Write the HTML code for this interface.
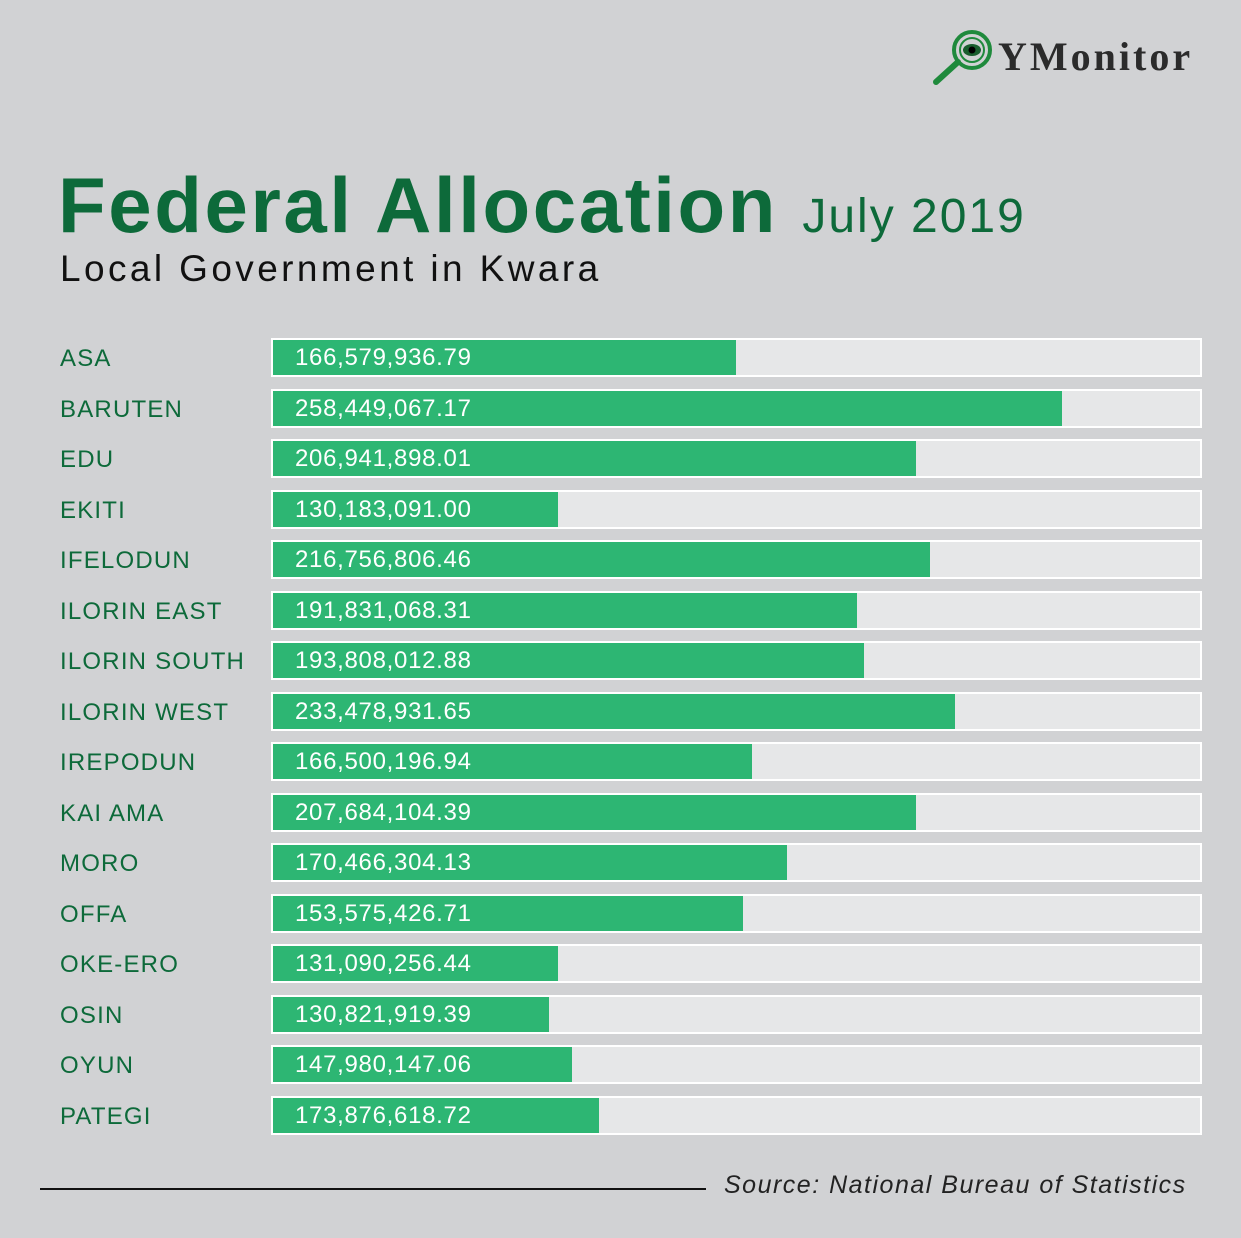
<!DOCTYPE html>
<html><head><meta charset="utf-8"><style>
body{margin:0;width:1241px;height:1238px;background:#d1d2d4;position:relative;overflow:hidden;font-family:"Liberation Sans",sans-serif}
.t{position:absolute;white-space:nowrap}
.row{position:absolute;left:271px;width:927px;height:35px;border:2px solid #fff;background:#e6e7e8}
.g{position:absolute;left:0;top:0;height:35px;background:#2db673}
.v{position:absolute;left:22px;top:4px;color:#fff;font-size:24px;letter-spacing:0.7px}
.lab{position:absolute;left:60px;color:#0d6a3a;font-size:24px;letter-spacing:1.2px}
</style></head><body>
<svg style="position:absolute;left:930px;top:26px" width="70" height="62">
<line x1="6" y1="56" x2="28" y2="36" stroke="#1f8a3c" stroke-width="6" stroke-linecap="round"/>
<circle cx="42" cy="24" r="18" fill="none" stroke="#1f8a3c" stroke-width="4"/>
<circle cx="42" cy="24" r="12" fill="none" stroke="#1f8a3c" stroke-width="2"/>
<ellipse cx="42" cy="24" rx="9" ry="6" fill="#1a5e2e"/>
<circle cx="42" cy="24" r="3.5" fill="#000"/>
</svg>
<div class="t" style="left:998px;top:33px;font-family:'Liberation Serif',serif;font-weight:bold;font-size:40px;color:#2b2b2b;letter-spacing:3px">YMonitor</div>
<div class="t" style="left:58px;top:160px;font-size:78px;font-weight:bold;color:#0d6a3a;letter-spacing:2.6px">Federal Allocation <span style="font-weight:normal;font-size:48px;letter-spacing:2px">July 2019</span></div>
<div class="t" style="left:60px;top:248px;font-size:37px;color:#111;letter-spacing:3.4px">Local Government in Kwara</div>
<div id="c"></div>
<div style="position:absolute;left:40px;top:1188px;width:666px;height:2px;background:#111"></div>
<div class="t" style="left:724px;top:1171px;font-size:25px;font-style:italic;color:#222;letter-spacing:1.5px">Source: National Bureau of Statistics</div>
<script>
var d=[["ASA","166,579,936.79",736],["BARUTEN","258,449,067.17",1062],["EDU","206,941,898.01",916],["EKITI","130,183,091.00",558],["IFELODUN","216,756,806.46",930],["ILORIN EAST","191,831,068.31",857],["ILORIN SOUTH","193,808,012.88",864],["ILORIN WEST","233,478,931.65",955],["IREPODUN","166,500,196.94",752],["KAI AMA","207,684,104.39",916],["MORO","170,466,304.13",787],["OFFA","153,575,426.71",743],["OKE-ERO","131,090,256.44",558],["OSIN","130,821,919.39",549],["OYUN","147,980,147.06",572],["PATEGI","173,876,618.72",599]];
var h="";d.forEach(function(r,i){var y=Math.round(338+i*50.53);
h+='<div class="lab t" style="top:'+(y+7)+'px">'+r[0]+'</div><div class="row" style="top:'+y+'px"><div class="g" style="width:'+(r[2]-273)+'px"></div><div class="v t">'+r[1]+'</div></div>';});
document.getElementById("c").innerHTML=h;
</script>
</body></html>
